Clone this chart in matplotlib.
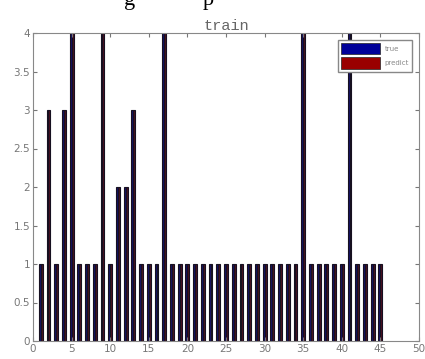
import matplotlib.pyplot as plt
import numpy as np

# bar data
samples = list(range(1, 46))
true_vals = [1, 3, 1, 3, 4, 1, 1, 1, 4, 1, 2, 2, 3, 1, 1, 1, 4,
             1, 1, 1, 1, 1, 1, 1, 1, 1, 1, 1, 1, 1, 1, 1, 1, 1,
             4, 1, 1, 1, 1, 1, 4, 1, 1, 1, 1]
predict_vals = list(true_vals)
x_ticks = [0, 5, 10, 15, 20, 25, 30, 35, 40, 45, 50]
y_ticks = [0, 0.5, 1, 1.5, 2, 2.5, 3, 3.5, 4]
y_labels = ["0", "0.5", "1", "1.5", "2", "2.5", "3", "3.5", "4"]


def main():
    fig = plt.figure(figsize=(4.25, 3.59), dpi=100)
    ax = fig.add_axes([33 / 425, 18 / 359, 386 / 425, 308 / 359])

    x = np.array(samples)
    w = 0.25
    ax.bar(x - w / 2, true_vals, w, color="#14106a", edgecolor="#161020",
           linewidth=0.8, label="true")
    ax.bar(x + w / 2, predict_vals, w, color="#4a1020", edgecolor="#161020",
           linewidth=0.8, label="predict")

    ax.set_xlim(0, 50)
    ax.set_ylim(0, 4)
    ax.set_xticks(x_ticks)
    ax.set_yticks(y_ticks, y_labels)
    ax.tick_params(direction="in", top=True, right=True, length=3,
                   colors="#777777", labelsize=7.5, pad=2)
    for sp in ax.spines.values():
        sp.set_color("#888888")
        sp.set_linewidth(0.8)

    ax.set_title("train", family="Liberation Mono", color="#666666",
                 fontsize=11, pad=2)

    # legend patches keep the pure series colours
    h1 = plt.Rectangle((0, 0), 1, 1, facecolor="#000099", edgecolor="#222222",
                       linewidth=0.5)
    h2 = plt.Rectangle((0, 0), 1, 1, facecolor="#990000", edgecolor="#222222",
                       linewidth=0.5)
    leg = ax.legend([h1, h2], ["true", "predict"], loc="upper right",
                    fontsize=5, handlelength=5.6, handleheight=2.1,
                    borderaxespad=1.0, fancybox=False, framealpha=1,
                    edgecolor="#888888", labelspacing=0.45, borderpad=0.45,
                    handletextpad=0.7)
    for t in leg.get_texts():
        t.set_color("#888888")

    # clipped caption fragments at the very top of the picture
    fig.text(130 / 425, 1.0, "g", family="Liberation Serif", fontsize=16,
             va="center", ha="center", color="black")
    fig.text(208 / 425, 1.0, "p", family="Liberation Serif", fontsize=16,
             va="center", ha="center", color="black")

    fig.savefig("out.png", dpi=100)


if __name__ == "__main__":
    main()
